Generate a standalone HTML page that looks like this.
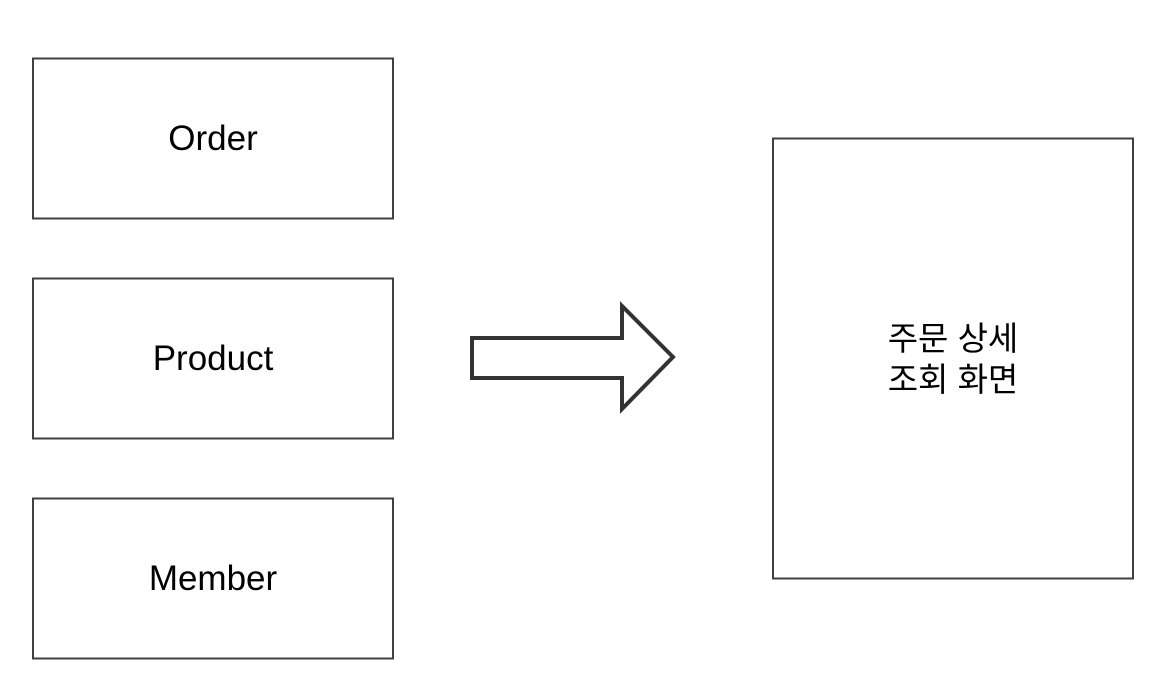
<!DOCTYPE html>
<html><head><meta charset="utf-8"><style>
html,body{margin:0;padding:0;background:#fff;width:1160px;height:692px;overflow:hidden}
svg text{font-family:"Liberation Sans","Noto Sans CJK KR",sans-serif;font-size:35px;fill:#000}
</style></head><body>
<svg width="1160" height="692" xmlns="http://www.w3.org/2000/svg">
<g fill="#fff" stroke="#404040" stroke-width="2">
<rect x="33" y="58.5" width="360" height="160"/>
<rect x="33" y="278.5" width="360" height="160"/>
<rect x="33" y="498.5" width="360" height="160"/>
<rect x="773" y="138.5" width="360" height="440"/>
</g>
<polygon points="472,338 622,338 622,306 673,357 622,409 622,378 472,378" fill="#fff" stroke="#333" stroke-width="4" stroke-linejoin="miter"/>
<text x="213" y="150" text-anchor="middle">Order</text>
<text x="213" y="370" text-anchor="middle">Product</text>
<text x="213" y="590" text-anchor="middle">Member</text>
<text x="953" y="350" text-anchor="middle" style="font-size:33px">주문 상세</text>
<text x="953" y="391" text-anchor="middle" style="font-size:33px">조회 화면</text>
</svg>
</body></html>
